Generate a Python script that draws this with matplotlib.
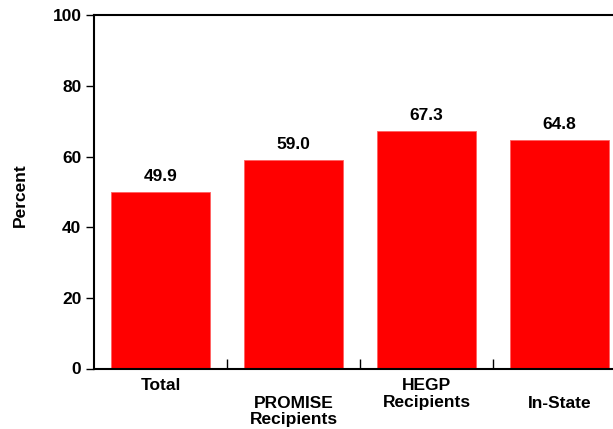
import matplotlib.pyplot as plt
from matplotlib.ticker import FixedLocator

categories = ['Total', 'PROMISE\nRecipients', 'HEGP\nRecipients', 'In-State']
values = [49.9, 59.0, 67.3, 64.8]
label_drop = [0, 17, 0, 17]   # px pushed down for staggered labels

plt.rcParams['font.family'] = ['Liberation Sans', 'DejaVu Sans']
plt.rcParams['font.weight'] = 'bold'
fs = 12.5

fig = plt.figure(figsize=(6.13, 4.29), dpi=100)
ax = fig.add_axes([94/613, 60.5/429, 532/613, 353.2/429])

xs = range(len(categories))
ax.bar(xs, values, width=0.75, color='#ff0000', edgecolor='#ff6060', linewidth=0.6)

for x, v in zip(xs, values):
    ax.annotate('%.1f' % v, (x, v), xytext=(0, 8), textcoords='offset points',
                ha='center', va='baseline', fontsize=fs, fontweight='bold')

ax.set_xlim(-0.5, len(categories) - 0.5)
ax.set_ylim(0, 100)
ax.set_yticks([0, 20, 40, 60, 80, 100])
ax.tick_params(axis='y', direction='out', length=6, width=1, labelsize=fs, pad=3)

# category labels placed by hand so they can be staggered
ax.set_xticks([])
ax.xaxis.set_minor_locator(FixedLocator([0.5, 1.5, 2.5]))
ax.tick_params(axis='x', which='minor', direction='in', length=7, width=1)
for x, cat, d in zip(xs, categories, label_drop):
    ax.annotate(cat, (x, 0), xycoords=('data', 'axes fraction'),
                xytext=(0, -(10 + d) * 0.72), textcoords='offset points',
                ha='center', va='top', fontsize=fs, fontweight='bold',
                linespacing=1.15)

for s in ['left', 'bottom', 'top']:
    ax.spines[s].set_linewidth(1.5)
ax.spines['right'].set_visible(False)

ax.set_ylabel('Percent', fontsize=fs, fontweight='bold')
ax.yaxis.set_label_coords(-0.124, 0.49)

fig.savefig('out.png', dpi=100)
